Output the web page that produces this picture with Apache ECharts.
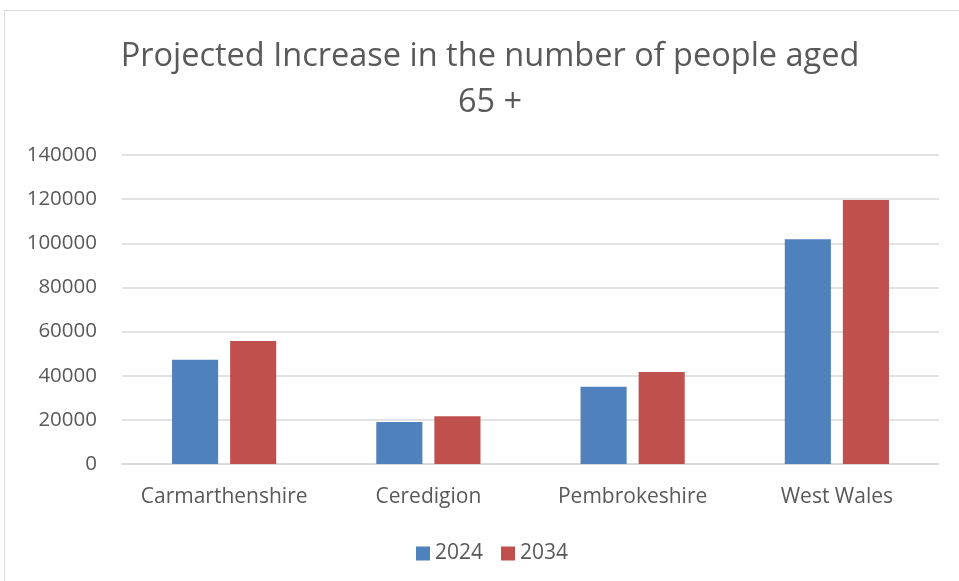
<!DOCTYPE html>
<html>
<head>
<meta charset="utf-8">
<script src="https://cdn.jsdelivr.net/npm/echarts@6/dist/echarts.min.js"></script>
<style>
	html, body { margin: 0; padding: 0; background: #fff; }
	.frame {
		position: absolute; left: 4px; top: 10px; width: 1000px; height: 620px;
		border: 1.5px solid #d9d9d9; box-sizing: border-box;
	}
	#chart { position: absolute; left: 0; top: 0; width: 959px; height: 581px; }
</style>
</head>
<body>
<div class="frame"></div>
<div id="chart"></div>
<script>
// categories and values
const categories = ['Carmarthenshire', 'Ceredigion', 'Pembrokeshire', 'West Wales'];
const values2024 = [47200, 19000, 35000, 101800];
const values2034 = [55700, 21600, 41700, 119600];
const yTicks = { min: 0, max: 140000, interval: 20000 };

const textColor = '#595959';
const gridColor = '#d9d9d9';
const fontName = 'Open Sans';

const myChart = echarts.init(document.getElementById('chart'));

const options = {
	animation: false,
	title: {
		text: 'Projected Increase in the number of people aged\n65 +',
		left: 485,
		textAlign: 'center',
		top: 29,
		textStyle: {
			fontFamily: fontName,
			fontWeight: 'normal',
			fontSize: 32.5,
			color: textColor,
			lineHeight: 46
		}
	},
	legend: {
		data: ['2024', '2034'],
		left: 411,
		top: 538,
		itemWidth: 14,
		itemHeight: 14,
		itemGap: 18,
		icon: 'rect',
		textStyle: { fontFamily: fontName, fontSize: 21, color: textColor }
	},
	grid: { left: 122, right: 20, top: 155, bottom: 117 },
	xAxis: {
		type: 'category',
		data: categories,
		axisLine: { lineStyle: { color: gridColor, width: 1.5 } },
		axisTick: { show: false },
		axisLabel: { color: textColor, fontFamily: fontName, fontSize: 21, margin: 23, interval: 0 }
	},
	yAxis: {
		type: 'value',
		min: yTicks.min,
		max: yTicks.max,
		interval: yTicks.interval,
		axisLine: { show: false },
		axisTick: { show: false },
		splitLine: { lineStyle: { color: gridColor, width: 1.5 } },
		axisLabel: {
			color: textColor, fontFamily: fontName, fontSize: 20.5, margin: 25,
			formatter: v => String(v)
		}
	},
	series: [
		{
			name: '2024',
			type: 'bar',
			data: values2024,
			barGap: '26%',
			barCategoryGap: '49%',
			itemStyle: { color: '#4f81bd' }
		},
		{
			name: '2034',
			type: 'bar',
			data: values2034,
			itemStyle: { color: '#c0504d' }
		}
	]
};

myChart.setOption(options);
</script>
</body>
</html>
